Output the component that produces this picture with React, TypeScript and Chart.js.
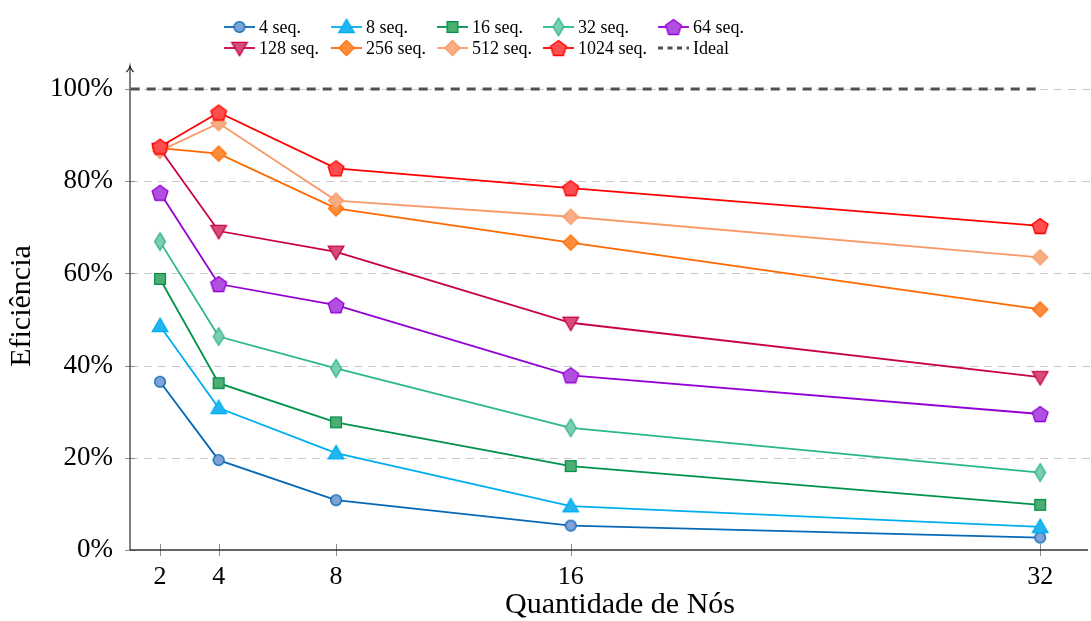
import React, { useEffect, useRef } from "react";
import { Chart, registerables } from "chart.js";

Chart.register(...registerables);

// ---------- data ----------
const nodes = [2, 4, 8, 16, 32];
const seriesNames = ["4 seq.", "8 seq.", "16 seq.", "32 seq.", "64 seq.", "128 seq.", "256 seq.", "512 seq.", "1024 seq."];
const seq4 = [36.5, 19.5, 10.8, 5.3, 2.7];
const seq8 = [48.6, 30.8, 21.0, 9.5, 5.0];
const seq16 = [58.8, 36.2, 27.7, 18.2, 9.8];
const seq32 = [66.9, 46.3, 39.4, 26.5, 16.8];
const seq64 = [77.5, 57.7, 53.1, 37.9, 29.5];
const seq128 = [87.0, 69.2, 64.7, 49.3, 37.5];
const seq256 = [87.2, 86.0, 74.1, 66.7, 52.2];
const seq512 = [86.6, 92.6, 75.8, 72.3, 63.5];
const seq1024 = [87.5, 94.9, 82.8, 78.5, 70.3];
const idealLabel = "Ideal";
const idealX = [1, 32];
const idealY = [100, 100];
const yTicks = [0, 20, 40, 60, 80, 100];
const xTitle = "Quantidade de Nós";
const yTitle = "Eficiência";

const seriesValues = [seq4, seq8, seq16, seq32, seq64, seq128, seq256, seq512, seq1024];

// ---------- styles ----------
const FONT = "'Liberation Serif', 'Times New Roman', serif";
const lineColors = ["#0868b4", "#00aeef", "#00924a", "#2bb78c", "#9400d3", "#c8004c", "#ff6a00", "#f79a68", "#ff0000"];
const fillColors = ["#7fa2d8", "#22b6f0", "#4dae73", "#7dcdb1", "#b150e0", "#d64b78", "#ff8c3c", "#f9ad82", "#ff4d4d"];
const shapes = ["circle", "triUp", "square", "thinDiamond", "pentagon", "triDown", "rectRot", "rectRot", "pentagon"];

function makeMarker(shape: string, fill: string, stroke: string): HTMLCanvasElement {
  const c = document.createElement("canvas");
  c.width = 24;
  c.height = 24;
  const ctx = c.getContext("2d")!;
  ctx.translate(12, 12);
  ctx.beginPath();
  if (shape === "circle") {
    ctx.arc(0, 0, 5.4, 0, Math.PI * 2);
  } else if (shape === "triUp") {
    ctx.moveTo(0, -7.8);
    ctx.lineTo(7.8, 5.7);
    ctx.lineTo(-7.8, 5.7);
  } else if (shape === "triDown") {
    ctx.moveTo(0, 7.8);
    ctx.lineTo(7.8, -5.7);
    ctx.lineTo(-7.8, -5.7);
  } else if (shape === "square") {
    ctx.rect(-5.4, -5.4, 10.8, 10.8);
  } else if (shape === "thinDiamond") {
    ctx.moveTo(0, -8.8);
    ctx.lineTo(5.4, 0);
    ctx.lineTo(0, 8.8);
    ctx.lineTo(-5.4, 0);
  } else if (shape === "rectRot") {
    ctx.moveTo(0, -7.6);
    ctx.lineTo(7.6, 0);
    ctx.lineTo(0, 7.6);
    ctx.lineTo(-7.6, 0);
  } else if (shape === "pentagon") {
    const r = 8.3;
    for (let i = 0; i < 5; i++) {
      const a = -Math.PI / 2 + (i * 2 * Math.PI) / 5;
      const px = r * Math.cos(a);
      const py = r * Math.sin(a) + 0.8;
      if (i === 0) ctx.moveTo(px, py);
      else ctx.lineTo(px, py);
    }
  }
  ctx.closePath();
  ctx.fillStyle = fill;
  ctx.fill();
  ctx.lineWidth = 1.3;
  ctx.strokeStyle = stroke;
  ctx.stroke();
  return c;
}

const legendCols = [224, 331, 437, 543, 658];
const legendRows = [27, 48];

export default function App() {
  const ref = useRef<HTMLCanvasElement>(null);

  useEffect(() => {
    if (!ref.current) return;
    const markers = shapes.map((s, i) => makeMarker(s, fillColors[i], lineColors[i]));

    const datasets: any[] = seriesValues.map((vals, i) => ({
      label: seriesNames[i],
      data: nodes.map((n, j) => ({ x: n, y: vals[j] })),
      borderColor: lineColors[i],
      backgroundColor: fillColors[i],
      borderWidth: 1.8,
      pointStyle: markers[i],
      pointRadius: 8,
      tension: 0,
      order: -i,
    }));
    datasets.push({
      label: idealLabel,
      data: idealX.map((x, j) => ({ x, y: idealY[j] })),
      borderColor: "#505050",
      borderWidth: 3,
      borderDash: [9, 7],
      pointRadius: 0,
      order: 10,
    });

    const decor = {
      id: "decor",
      beforeDatasetsDraw(chart: any) {
        const { ctx, chartArea } = chart;
        const xs = chart.scales.x;
        const ys = chart.scales.y;
        ctx.save();
        // horizontal dashed grid
        ctx.strokeStyle = "#c8c8c8";
        ctx.lineWidth = 1;
        ctx.setLineDash([8, 6]);
        yTicks.forEach((v) => {
          if (v === 0) return;
          const y = Math.round(ys.getPixelForValue(v)) + 0.5;
          ctx.beginPath();
          ctx.moveTo(chartArea.left, y);
          ctx.lineTo(chartArea.right, y);
          ctx.stroke();
        });
        ctx.setLineDash([]);
        // tick marks
        ctx.strokeStyle = "#8a8a8a";
        ctx.lineWidth = 1;
        yTicks.forEach((v) => {
          const y = Math.round(ys.getPixelForValue(v)) + 0.5;
          ctx.beginPath();
          ctx.moveTo(chartArea.left - 5, y);
          ctx.lineTo(chartArea.left + 5, y);
          ctx.stroke();
        });
        nodes.forEach((n) => {
          const x = Math.round(xs.getPixelForValue(n)) + 0.5;
          ctx.beginPath();
          ctx.moveTo(x, chartArea.bottom - 6);
          ctx.lineTo(x, chartArea.bottom + 6);
          ctx.stroke();
        });
        // axes
        ctx.strokeStyle = "#555";
        ctx.lineWidth = 1.5;
        ctx.beginPath();
        ctx.moveTo(chartArea.left, chartArea.bottom);
        ctx.lineTo(chartArea.left, chartArea.top + 1);
        ctx.stroke();
        ctx.strokeStyle = "#333";
        ctx.lineWidth = 1.3;
        ctx.beginPath();
        ctx.moveTo(chartArea.left, chartArea.bottom);
        ctx.lineTo(chartArea.right - 2, chartArea.bottom);
        ctx.stroke();
        // arrow head
        ctx.strokeStyle = "#111";
        ctx.lineWidth = 1.2;
        ctx.beginPath();
        ctx.moveTo(chartArea.left - 3.5, chartArea.top + 6);
        ctx.quadraticCurveTo(chartArea.left - 0.5, chartArea.top + 3, chartArea.left, chartArea.top);
        ctx.quadraticCurveTo(chartArea.left + 0.5, chartArea.top + 3, chartArea.left + 3.5, chartArea.top + 6);
        ctx.stroke();
        ctx.restore();
      },
      afterDraw(chart: any) {
        const { ctx, chartArea } = chart;
        ctx.save();
        ctx.fillStyle = "#000";
        // axis titles
        ctx.font = `30px ${FONT}`;
        ctx.textAlign = "center";
        ctx.textBaseline = "middle";
        ctx.fillText(xTitle, (chartArea.left + chartArea.right) / 2 + 10, 605);
        ctx.save();
        ctx.translate(22, 306);
        ctx.rotate(-Math.PI / 2);
        ctx.font = `30px ${FONT}`;
        ctx.fillText(yTitle, 0, 0);
        ctx.restore();
        // legend
        ctx.font = `18px ${FONT}`;
        ctx.textAlign = "left";
        const names = [...seriesNames, idealLabel];
        names.forEach((name, i) => {
          const x0 = legendCols[i % 5];
          const y0 = legendRows[Math.floor(i / 5)];
          ctx.save();
          if (i < 9) {
            ctx.strokeStyle = lineColors[i];
            ctx.lineWidth = 1.8;
            ctx.beginPath();
            ctx.moveTo(x0, y0);
            ctx.lineTo(x0 + 31, y0);
            ctx.stroke();
            const m = markers[i];
            ctx.drawImage(m, x0 + 15.5 - m.width / 2, y0 - m.height / 2);
          } else {
            ctx.strokeStyle = "#505050";
            ctx.lineWidth = 3;
            ctx.setLineDash([5, 4.5]);
            ctx.beginPath();
            ctx.moveTo(x0, y0);
            ctx.lineTo(x0 + 31, y0);
            ctx.stroke();
          }
          ctx.restore();
          ctx.fillStyle = "#000";
          ctx.fillText(name, x0 + 35, y0 + 1);
        });
        ctx.restore();
      },
    };

    const chart = new Chart(ref.current, {
      type: "line",
      data: { datasets },
      options: {
        animation: false,
        responsive: false,
        devicePixelRatio: 1,
        layout: { autoPadding: false, padding: { top: 66, right: 1, left: 0, bottom: 0 } },
        plugins: { legend: { display: false }, tooltip: { enabled: false }, title: { display: false } },
        scales: {
          x: {
            type: "linear",
            min: 0.977,
            max: 33.7,
            afterBuildTicks: (s: any) => {
              s.ticks = nodes.map((v) => ({ value: v }));
            },
            afterFit: (s: any) => {
              s.height = 71;
              s.paddingLeft = 0;
              s.paddingRight = 0;
            },
            grid: { display: false, drawTicks: false },
            border: { display: false },
            ticks: {
              font: { family: FONT, size: 26 },
              color: "#000",
              padding: 12,
              maxRotation: 0,
              autoSkip: false,
            },
          },
          y: {
            min: 0,
            max: 105,
            afterBuildTicks: (s: any) => {
              s.ticks = yTicks.map((v) => ({ value: v }));
            },
            afterFit: (s: any) => {
              s.width = 130;
              s.paddingTop = 0;
              s.paddingBottom = 0;
            },
            grid: { display: false, drawTicks: false },
            border: { display: false },
            ticks: {
              font: { family: FONT, size: 27 },
              color: "#000",
              padding: 17,
              callback: (v: any) => `${v}%`,
            },
          },
        },
      } as any,
      plugins: [decor],
    });
    return () => chart.destroy();
  }, []);

  return (
    <div style={{ position: "fixed", left: 0, top: 0, width: 1091, height: 621, background: "#fff" }}>
      <canvas ref={ref} width={1091} height={621} />
    </div>
  );
}
